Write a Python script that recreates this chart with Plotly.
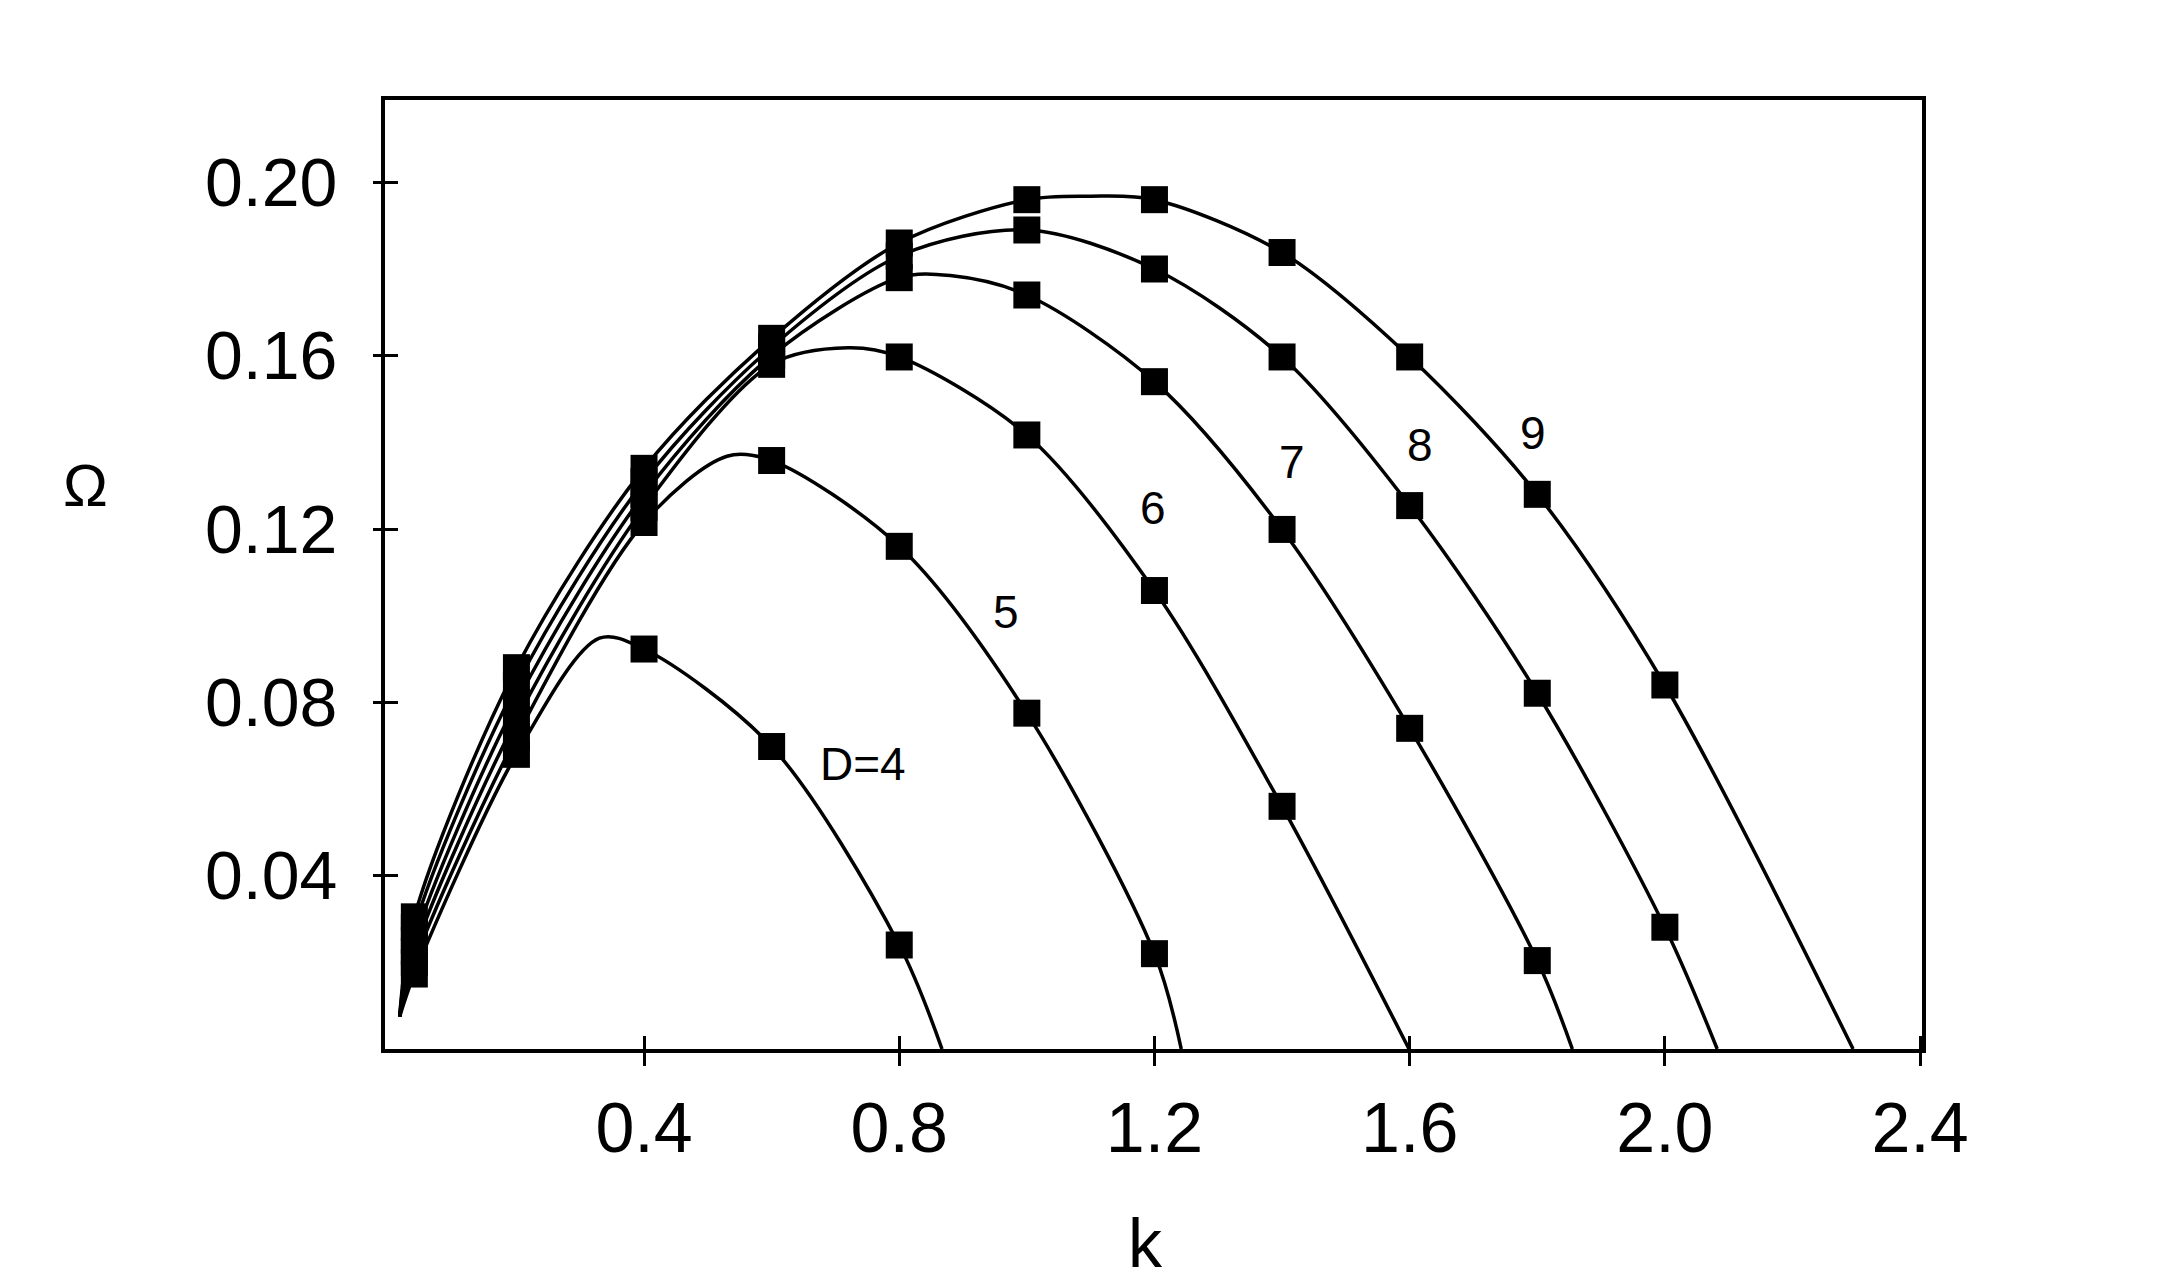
import plotly.graph_objects as go

# ---- data ----
curve_names = ["D=4", "5", "6", "7", "8", "9"]

# marker points (k, Omega)
k_D4 = [0.04, 0.2, 0.4, 0.6, 0.8]
om_D4 = [0.0173, 0.068, 0.0923, 0.0698, 0.024]
k_D5 = [0.04, 0.2, 0.4, 0.6, 0.8, 1.0, 1.2]
om_D5 = [0.020, 0.072, 0.1215, 0.1358, 0.116, 0.0775, 0.022]
k_D6 = [0.04, 0.2, 0.4, 0.6, 0.8, 1.0, 1.2, 1.4]
om_D6 = [0.0225, 0.076, 0.125, 0.158, 0.1597, 0.1417, 0.1058, 0.056]
k_D7 = [0.04, 0.2, 0.4, 0.6, 0.8, 1.0, 1.2, 1.4, 1.6, 1.8]
om_D7 = [0.025, 0.080, 0.128, 0.160, 0.178, 0.1740, 0.1540, 0.1199, 0.0740, 0.0204]
k_D8 = [0.04, 0.2, 0.4, 0.6, 0.8, 1.0, 1.2, 1.4, 1.6, 1.8, 2.0]
om_D8 = [0.028, 0.084, 0.131, 0.162, 0.183, 0.189, 0.180, 0.1597, 0.1254, 0.0821, 0.0281]
k_D9 = [0.04, 0.2, 0.4, 0.6, 0.8, 1.0, 1.2, 1.4, 1.6, 1.8, 2.0]
om_D9 = [0.0305, 0.088, 0.134, 0.164, 0.186, 0.196, 0.196, 0.1838, 0.1597, 0.128, 0.084]

# extra points (start, peak, zero crossing)
kx_D4 = [0.017, 0.33, 0.867]
omx_D4 = [0.0075, 0.0948, 0.0]
kx_D5 = [0.017, 0.53, 1.242]
omx_D5 = [0.0075, 0.1368, 0.0]
kx_D6 = [0.017, 0.72, 1.599]
omx_D6 = [0.0075, 0.1618, 0.0]
kx_D7 = [0.017, 0.88, 1.855]
omx_D7 = [0.0075, 0.1785, 0.0]
kx_D8 = [0.017, 2.082]
omx_D8 = [0.0075, 0.0]
kx_D9 = [0.017, 1.1, 2.295]
omx_D9 = [0.0075, 0.1968, 0.0]

# curve label positions (k, Omega)
label_k = [0.7435, 0.968, 1.198, 1.415, 1.616, 1.794]
label_om = [0.0657, 0.1008, 0.1249, 0.1355, 0.1395, 0.1422]

x_tickvals = [0.4, 0.8, 1.2, 1.6, 2.0, 2.4]
x_ticktext = ["0.4", "0.8", "1.2", "1.6", "2.0", "2.4"]
y_tickvals = [0.04, 0.08, 0.12, 0.16, 0.20]
y_ticktext = ["0.04", "0.08", "0.12", "0.16", "0.20"]

markers = [(k_D4, om_D4), (k_D5, om_D5), (k_D6, om_D6),
           (k_D7, om_D7), (k_D8, om_D8), (k_D9, om_D9)]
extras = [(kx_D4, omx_D4), (kx_D5, omx_D5), (kx_D6, omx_D6),
          (kx_D7, omx_D7), (kx_D8, omx_D8), (kx_D9, omx_D9)]

FONT = "Liberation Sans, Arial, sans-serif"
XR = [-0.006, 2.403]
YR = [0, 0.219]

fig = go.Figure()
for (km, om), (kx, ox) in zip(markers, extras):
    pts = sorted(zip(list(km) + list(kx), list(om) + list(ox)))
    fig.add_trace(go.Scatter(
        x=[p[0] for p in pts], y=[p[1] for p in pts], mode="lines",
        line=dict(color="black", width=3.5, shape="spline", smoothing=0.9),
        showlegend=False, hoverinfo="skip"))
    fig.add_trace(go.Scatter(
        x=km, y=om, mode="markers",
        marker=dict(symbol="square", size=27, color="black"),
        showlegend=False))

# invisible trace to carry the inside-tick overlay axes
fig.add_trace(go.Scatter(x=[XR[0]], y=[YR[0]], xaxis="x2", yaxis="y2",
                         mode="markers", marker=dict(opacity=0),
                         showlegend=False, hoverinfo="skip"))

for name, lk, lo in zip(curve_names, label_k, label_om):
    fig.add_annotation(x=lk, y=lo, text=name, showarrow=False,
                       font=dict(family=FONT, size=46, color="black"),
                       xanchor="center", yanchor="middle")

# axis titles
fig.add_annotation(xref="paper", yref="paper", x=-0.195, y=0.594, text="Ω",
                   showarrow=False, font=dict(family=FONT, size=60, color="black"),
                   xanchor="center", yanchor="middle")
fig.add_annotation(xref="paper", yref="paper", x=0.495, y=-0.204, text="k",
                   showarrow=False, font=dict(family=FONT, size=68, color="black"),
                   xanchor="center", yanchor="middle")

fig.update_layout(
    width=2177, height=1285, autosize=False,
    margin=dict(l=385, r=255, t=100, b=236),
    paper_bgcolor="white", plot_bgcolor="white",
    xaxis=dict(range=XR, tickvals=x_tickvals, ticktext=x_ticktext,
               ticks="outside", ticklen=13, tickwidth=3, tickcolor="black",
               showline=True, linewidth=4, linecolor="black", mirror=True,
               showgrid=False, zeroline=False, automargin=False,
               tickfont=dict(family=FONT, size=70, color="black"),
               ticklabelstandoff=2),
    yaxis=dict(range=YR, tickvals=y_tickvals, ticktext=y_ticktext,
               ticks="outside", ticklen=8, tickwidth=3, tickcolor="black",
               showline=True, linewidth=4, linecolor="black", mirror=True,
               showgrid=False, zeroline=False, automargin=False,
               tickfont=dict(family=FONT, size=68, color="black"),
               ticklabelstandoff=22),
    xaxis2=dict(range=XR, overlaying="x", side="bottom", tickvals=x_tickvals,
                ticks="inside", ticklen=13, tickwidth=3, tickcolor="black",
                showticklabels=False, showgrid=False, zeroline=False,
                showline=False, automargin=False),
    yaxis2=dict(range=YR, overlaying="y", side="left", tickvals=y_tickvals,
                ticks="inside", ticklen=13, tickwidth=3, tickcolor="black",
                showticklabels=False, showgrid=False, zeroline=False,
                showline=False, automargin=False),
)

fig.write_html("out.html",
               config={"displayModeBar": False},
               post_script="document.body.style.margin='0px';"
                           "document.body.style.padding='0px';")
